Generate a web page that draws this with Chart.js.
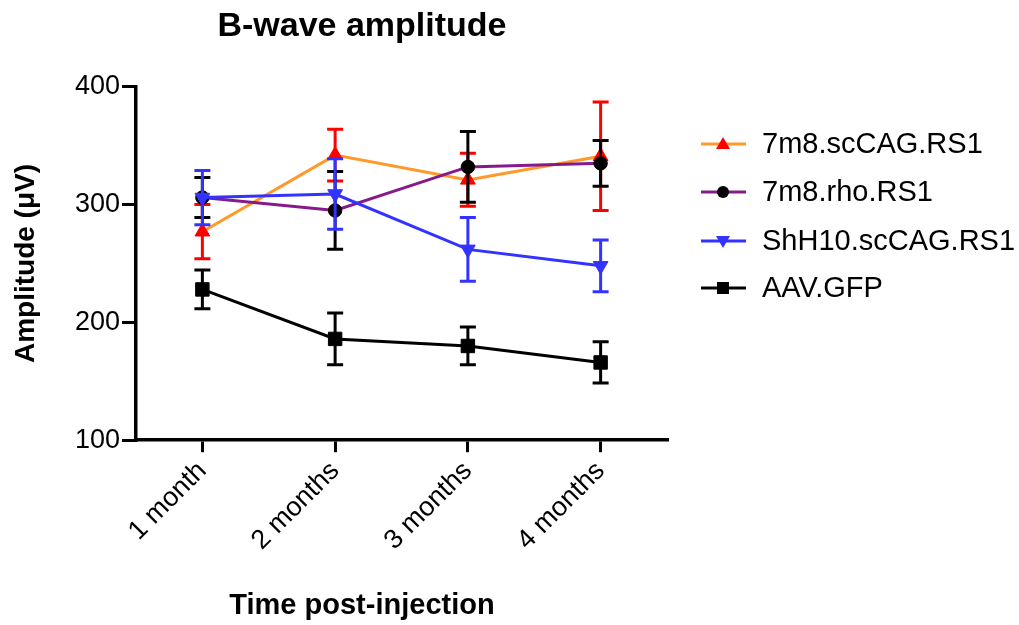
<!DOCTYPE html>
<html>
<head>
<meta charset="utf-8">
<script src="https://cdn.jsdelivr.net/npm/chart.js@4.4.1/dist/chart.umd.min.js"></script>
<style>
  body { margin: 0; background: #fff; font-family: "Liberation Sans", Arial, sans-serif; }
  #wrap { position: relative; width: 1019px; height: 625px; }
  #chart { position: absolute; left: 0; top: 0; }
  .item { position: absolute; left: 700px; display: flex; align-items: center; white-space: nowrap; font-size: 29px; color: #000; }
  .item svg { margin-right: 15px; }
</style>
</head>
<body>
<div id="wrap">
  <canvas id="chart" width="724" height="625"></canvas>
  <div id="legend"></div>
</div>
<script>
const months = ["1 month", "2 months", "3 months", "4 months"];

const scCagMean = [277, 342, 321, 341];
const scCagErr = [23, 22, 22.5, 46];
const rhoMean = [306, 295, 332, 335];
const rhoErr = [17, 33, 30, 19.5];
const shMean = [306, 309, 262, 248];
const shErr = [23, 30, 27, 22];
const gfpMean = [228, 186, 180, 166];
const gfpErr = [16.5, 22, 16, 17.5];

const yTicks = [100, 200, 300, 400];

Chart.defaults.font.family = '"Liberation Sans", Arial, sans-serif';
Chart.defaults.color = "#000";

// error bars drawn under each dataset's line, through the y scale
const errorBars = {
  id: "errorBars",
  beforeDatasetDraw(chart, args) {
    const ds = chart.data.datasets[args.index];
    if (!ds.errors) return;
    const y = chart.scales.y;
    const ctx = chart.ctx;
    ctx.save();
    ctx.strokeStyle = ds.errorColor;
    ctx.lineWidth = 3;
    args.meta.data.forEach((pt, i) => {
      const top = y.getPixelForValue(ds.data[i] + ds.errors[i]);
      const bot = y.getPixelForValue(ds.data[i] - ds.errors[i]);
      const x = pt.x;
      ctx.beginPath();
      ctx.moveTo(x, top); ctx.lineTo(x, bot);
      ctx.moveTo(x - 8, top); ctx.lineTo(x + 8, top);
      ctx.moveTo(x - 8, bot); ctx.lineTo(x + 8, bot);
      ctx.stroke();
    });
    ctx.restore();
  }
};

const series = [
  { label: "7m8.scCAG.RS1", data: scCagMean, errors: scCagErr, line: "#FF9A2A", mark: "#FF0000", errorColor: "#FF0000", style: "triangle", rot: 0, r: 8.5, order: 2 },
  { label: "7m8.rho.RS1", data: rhoMean, errors: rhoErr, line: "#861A8A", mark: "#000000", errorColor: "#000000", style: "circle", rot: 0, r: 6.7, order: 1 },
  { label: "ShH10.scCAG.RS1", data: shMean, errors: shErr, line: "#3333FF", mark: "#3333FF", errorColor: "#3333FF", style: "triangle", rot: 180, r: 8.5, order: 0 },
  { label: "AAV.GFP", data: gfpMean, errors: gfpErr, line: "#000000", mark: "#000000", errorColor: "#000000", style: "rect", rot: 0, r: 9.5, order: 3 }
];

new Chart(document.getElementById("chart"), {
  type: "line",
  data: {
    labels: months,
    datasets: series.map(s => ({
      label: s.label,
      data: s.data,
      errors: s.errors,
      errorColor: s.errorColor,
      borderColor: s.line,
      borderWidth: 3,
      tension: 0,
      pointStyle: s.style,
      pointRotation: s.rot,
      pointRadius: s.r,
      pointBackgroundColor: s.mark,
      pointBorderColor: s.mark,
      pointBorderWidth: 1,
      order: s.order
    }))
  },
  options: {
    responsive: false,
    devicePixelRatio: 1,
    animation: false,
    layout: { padding: 0 },
    plugins: {
      legend: { display: false },
      tooltip: { enabled: false },
      title: {
        display: true,
        text: "B-wave amplitude",
        font: { size: 34, weight: "bold" },
        color: "#000",
        padding: { top: 6, bottom: 40 }
      },
      subtitle: {
        display: true,
        position: "bottom",
        text: "Time post-injection",
        font: { size: 29, weight: "bold" },
        color: "#000",
        padding: { top: 28, bottom: 2 }
      }
    },
    scales: {
      x: {
        offset: true,
        grid: { drawOnChartArea: false, tickLength: 12, lineWidth: 3, color: "#000" },
        border: { color: "#000", width: 3.5 },
        ticks: { font: { size: 27 }, color: "#000", minRotation: 45, maxRotation: 45, autoSkip: false, padding: 3 },
        afterFit(s) { s.height = 120; }
      },
      y: {
        min: 100,
        max: 400,
        afterBuildTicks(s) { s.ticks = yTicks.map(v => ({ value: v })); },
        grid: { drawOnChartArea: false, tickLength: 14, lineWidth: 3, color: "#000" },
        border: { color: "#000", width: 3.5 },
        ticks: { font: { size: 27 }, color: "#000", padding: 2 },
        title: {
          display: true,
          text: "Amplitude (μV)",
          font: { size: 28, weight: "bold" },
          color: "#000",
          padding: { top: 9, bottom: 0 }
        },
        afterFit(s) { s.width = 136; }
      },
      yPad: {
        position: "right",
        display: true,
        grid: { display: false, drawTicks: false },
        border: { display: false },
        ticks: { display: false },
        afterFit(s) { s.width = 57; }
      }
    }
  },
  plugins: [errorBars]
});

// legend: line with marker, then label
const legendTops = [144, 192, 241, 288];
function markerSvg(s) {
  let m = "";
  if (s.style === "circle") m = `<circle cx="23" cy="10" r="6" fill="${s.mark}"/>`;
  else if (s.style === "rect") m = `<rect x="17" y="4" width="12" height="12" fill="${s.mark}"/>`;
  else if (s.rot === 0) m = `<polygon points="23,3 30,15 16,15" fill="${s.mark}"/>`;
  else m = `<polygon points="23,17 30,5 16,5" fill="${s.mark}"/>`;
  return `<svg width="47" height="20"><line x1="1" y1="10" x2="46" y2="10" stroke="${s.line}" stroke-width="3"/>${m}</svg>`;
}
const legend = document.getElementById("legend");
series.forEach((s, i) => {
  const div = document.createElement("div");
  div.className = "item";
  div.style.top = (legendTops[i] - 17) + "px";
  div.innerHTML = markerSvg(s) + "<span>" + s.label + "</span>";
  legend.appendChild(div);
});
</script>
</body>
</html>
